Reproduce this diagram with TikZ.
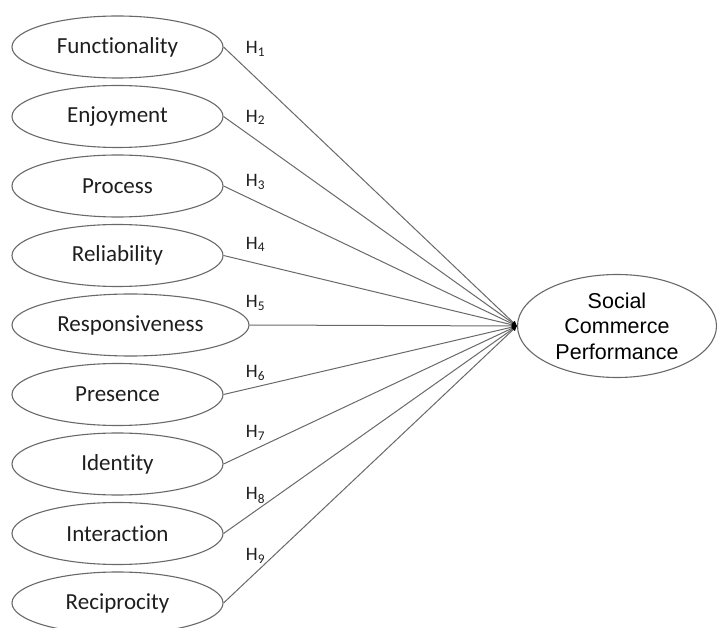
\documentclass[tikz,border=0pt]{standalone}
\usepackage{fontspec}
\usepackage{tikz}
\usetikzlibrary{arrows.meta, shapes, positioning}
\newfontfamily\calibrifont[Ligatures=NoCommon, Contextuals=NoAlternate, RawFeature={-liga;-dlig}]{Carlito}
\newfontfamily\arialfont{Liberation Sans}
\definecolor{linegray}{RGB}{105, 105, 105}
\definecolor{txtgray}{RGB}{30, 30, 30}
\tikzset{
    ellipsenode/.style = {draw=linegray, line width=1.1pt, ellipse, inner sep = 0em, node distance=0em,
      minimum height=62pt, minimum width=211pt, text=txtgray, font=\calibrifont\fontsize{23}{27}\selectfont},
    bigellipsenode/.style = {draw=linegray, line width=1.1pt, ellipse, inner sep = 0em, node distance=0em,
      minimum height=103pt, minimum width=199pt, align=center, text=black,
      font=\arialfont\fontsize{21.5}{25.5}\selectfont},
    textnode/.style  = {draw=none, fill=none, rectangle, inner sep = 0em, node distance=0em,
      text=txtgray, font=\calibrifont\fontsize{19}{22}\selectfont},
    connect/.style = {linegray, line width=1pt, -{Latex[length=5pt, width=5pt, black]}}
}

\begin{document}
\begin{tikzpicture}[x=1pt, y=-1pt]
\useasboundingbox[fill=white] (0,0) rectangle (718,628);

\node[ellipsenode, name=func] at (117.5,47) {Functionality};
\node[ellipsenode, name=enjoy, below of = func, yshift=-69.5pt] {Enjoyment};
\node[ellipsenode, name=proc, below of = enjoy, yshift=-69.5pt] {Process};
\node[ellipsenode, name=reli, below of = proc, yshift=-69.5pt] {Reliability};
\node[ellipsenode, name=resp, below of = reli, yshift=-69.5pt, xshift=13pt,
	minimum width=237pt] {Responsiveness};
\node[ellipsenode, name=pres, below of = reli, yshift=-139pt] {Presence};
\node[ellipsenode, name=iden, below of = pres, yshift=-69.5pt] {Identity};
\node[ellipsenode, name=inter, below of = iden, yshift=-69.5pt] {Interaction};
\node[ellipsenode, name=recip, below of = inter, yshift=-69.5pt] {Reciprocity};

\node[bigellipsenode, name=scp] at (617,326) {Social\\Commerce\\Performance};

% hypotheses
\draw[connect] (func.east) -- (scp.west);
\draw[connect] (enjoy.east) -- (scp.west);
\draw[connect] (proc.east) -- (scp.west);
\draw[connect] (reli.east) -- (scp.west);
\draw[connect] (resp.east) -- (scp.west);
\draw[connect] (pres.east) -- (scp.west);
\draw[connect] (iden.east) -- (scp.west);
\draw[connect] (inter.east) -- (scp.west);
\draw[connect] (recip.east) -- (scp.west);

\node[textnode, name=h1, right of = func, xshift=138pt, yshift=-2pt] {H\textsubscript{1}};
\node[textnode, name=h2, right of = enjoy, xshift=138pt, yshift=-1pt] {H\textsubscript{2}};
\node[textnode, name=h3, right of = proc, xshift=138pt, yshift=4pt] {H\textsubscript{3}};
\node[textnode, name=h4, right of = reli, xshift=138pt, yshift=11pt] {H\textsubscript{4}};
\node[textnode, name=h5, right of = resp, xshift=125pt, yshift=22pt] {H\textsubscript{5}};
\node[textnode, name=h6, right of = pres, xshift=138pt, yshift=22pt] {H\textsubscript{6}};
\node[textnode, name=h7, right of = iden, xshift=138pt, yshift=31pt] {H\textsubscript{7}};
\node[textnode, name=h8, right of = inter, xshift=138pt, yshift=38pt] {H\textsubscript{8}};
\node[textnode, name=h9, right of = recip, xshift=138pt, yshift=47pt] {H\textsubscript{9}};
\end{tikzpicture}
\end{document}
